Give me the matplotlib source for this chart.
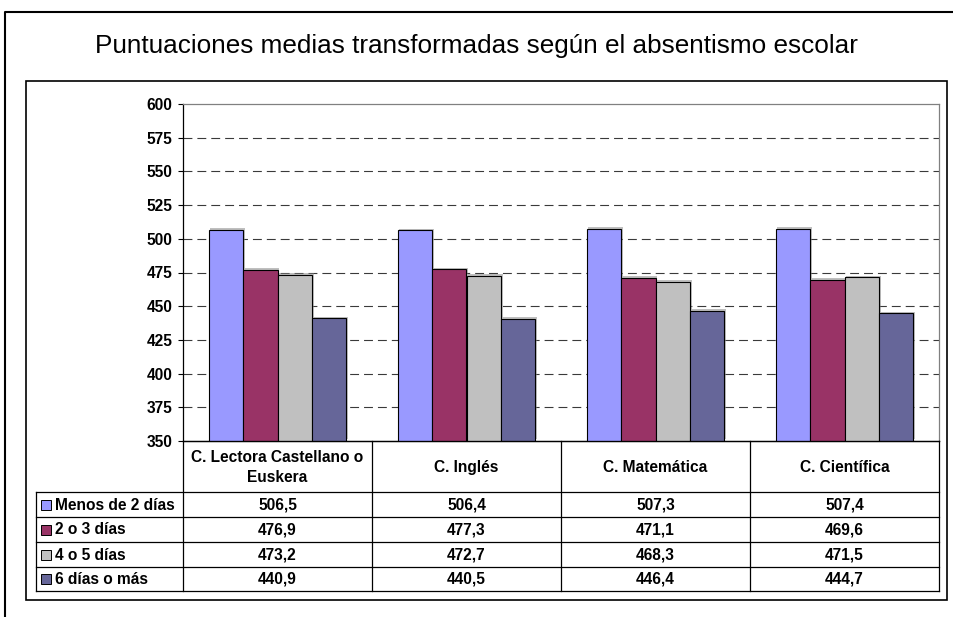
import matplotlib
matplotlib.use("Agg")
import matplotlib.pyplot as plt
import matplotlib.patheffects as pe
from matplotlib.lines import Line2D
from matplotlib.patches import Rectangle
import numpy as np

categories = ["C. Lectora Castellano o\nEuskera", "C. Inglés", "C. Matemática", "C. Científica"]
series = ["Menos de 2 días", "2 o 3 días", "4 o 5 días", "6 días o más"]
menos_2 = [506.5, 506.4, 507.3, 507.4]
dias_2_3 = [476.9, 477.3, 471.1, 469.6]
dias_4_5 = [473.2, 472.7, 468.3, 471.5]
dias_6_mas = [440.9, 440.5, 446.4, 444.7]
yticks = [350, 375, 400, 425, 450, 475, 500, 525, 550, 575, 600]
title = "Puntuaciones medias transformadas según el absentismo escolar"

values = [menos_2, dias_2_3, dias_4_5, dias_6_mas]
colors = ["#9999FF", "#993366", "#C0C0C0", "#666699"]

W, H = 954, 617
fig = plt.figure(figsize=(W / 100, H / 100), dpi=100)
fig.patch.set_facecolor("white")


def fx(px):
    return px / W


def fy(py):
    return 1 - py / H


bold = dict(family="Liberation Sans", weight="bold", size=11.2)

# outer border (top and left only visible) and the chart area frame
fig.add_artist(Line2D([fx(5), fx(5), fx(956)], [fy(620), fy(12), fy(12)],
                      transform=fig.transFigure, color="black", lw=1.5))
fig.add_artist(Rectangle((fx(26), fy(600)), fx(947) - fx(26), fy(81) - fy(600),
                         transform=fig.transFigure, fill=False, ec="black", lw=1.2))

fig.text(fx(476), fy(46), title, ha="center", va="center",
         family="Liberation Sans", size=18.8)

# main bar chart
ax = fig.add_axes([fx(183), fy(441), fx(939) - fx(183), fy(104) - fy(441)])
x = np.arange(len(categories))
bw = 0.182
shadow = [pe.SimplePatchShadow(offset=(1.2, 1.2), shadow_rgbFace="#808080", alpha=0.5), pe.Normal()]
for i, (vals, col) in enumerate(zip(values, colors)):
    bars = ax.bar(x + (i - 1.5) * bw, np.array(vals) - 350, bottom=350, width=bw,
                  color=col, edgecolor="black", linewidth=0.8, zorder=3)
    for b in bars:
        b.set_path_effects(shadow)

ax.set_xlim(-0.5, 3.5)
ax.set_ylim(350, 600)
ax.set_yticks(yticks)
ax.set_yticklabels([str(t) for t in yticks], fontdict=bold)
ax.set_xticks([])
ax.tick_params(axis="y", direction="out", length=3.5, width=0.8, pad=4)
for t in yticks[1:-1]:
    ax.axhline(t, color="#3a3a3a", lw=0.8, linestyle=(0, (8, 4.5)), zorder=1)
ax.spines["left"].set_color("black")
ax.spines["bottom"].set_color("black")
ax.spines["top"].set_color("#808080")
ax.spines["right"].set_color("#808080")
for s in ax.spines.values():
    s.set_linewidth(0.9)

# data table under the chart
rows_px = [0, 51, 76, 101, 126, 150]
tax = fig.add_axes([fx(183), fy(591), fx(939) - fx(183), fy(441) - fy(591)], sharex=ax)
tax.set_ylim(rows_px[-1], 0)
tax.axis("off")
left = -0.5 - (183 - 36) / 189.0

lk = dict(color="black", lw=0.9, clip_on=False)
# vertical lines
for b in np.arange(-0.5, 4.0, 1.0):
    tax.plot([b, b], [0, rows_px[-1]], **lk)
tax.plot([left, left], [rows_px[1], rows_px[-1]], **lk)
# horizontal lines
tax.plot([-0.5, 3.5], [0, 0], **lk)
for r in rows_px[1:]:
    tax.plot([left, 3.5], [r, r], **lk)

for j, cat in enumerate(categories):
    tax.text(x[j], rows_px[1] / 2 + 1, cat, ha="center", va="center",
             linespacing=1.45, fontdict=bold, clip_on=False)

for i, (name, vals, col) in enumerate(zip(series, values, colors)):
    yc = (rows_px[i + 1] + rows_px[i + 2]) / 2
    tax.add_patch(Rectangle((-0.5 - (183 - 41) / 189.0, yc - 5), 10 / 189.0, 10,
                            facecolor=col, edgecolor="black", lw=0.7, clip_on=False))
    tax.text(-0.5 - (183 - 55) / 189.0, yc + 0.5, name, ha="left", va="center",
             fontdict=bold, clip_on=False)
    for j, v in enumerate(vals):
        tax.text(x[j], yc + 0.5, f"{v:.1f}".replace(".", ","), ha="center", va="center",
                 fontdict=bold, clip_on=False)

fig.savefig("out.png", dpi=100)
